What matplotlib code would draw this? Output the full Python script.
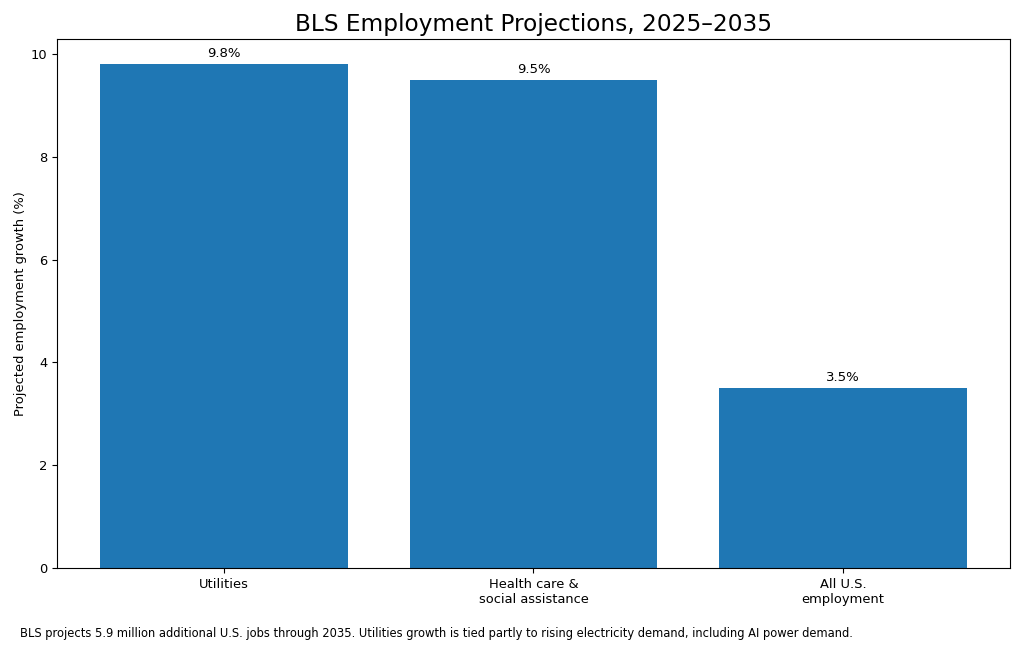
import matplotlib
matplotlib.use('Agg')
import matplotlib.pyplot as plt

# data
categories = ['Utilities', 'Health care &\nsocial assistance', 'All U.S.\nemployment']
growth_pct = [9.8, 9.5, 3.5]

TITLE = 'BLS Employment Projections, 2025\u20132035'
YLABEL = 'Projected employment growth (%)'
NOTE = ('BLS projects 5.9 million additional U.S. jobs through 2035. Utilities growth is tied '
        'partly to rising electricity demand, including AI power demand.')


def main():
    fig = plt.figure(figsize=(10.24, 6.52), dpi=100)
    ax = fig.add_axes([0.0557, 0.129, 0.9305, 0.811])

    bars = ax.bar(categories, growth_pct, color='#1f77b4')
    ax.bar_label(bars, labels=[f'{v:.1f}%' for v in growth_pct], padding=3, fontsize=9.5)

    ax.tick_params(labelsize=9.4)
    ax.set_title(TITLE, fontsize=16.75)
    ax.set_ylabel(YLABEL, fontsize=9.4, labelpad=3)

    fig.text(0.0195, 0.018, NOTE, fontsize=8.3, ha='left', va='bottom')

    fig.savefig('out.png', dpi=100)
    plt.close(fig)


if __name__ == '__main__':
    main()
